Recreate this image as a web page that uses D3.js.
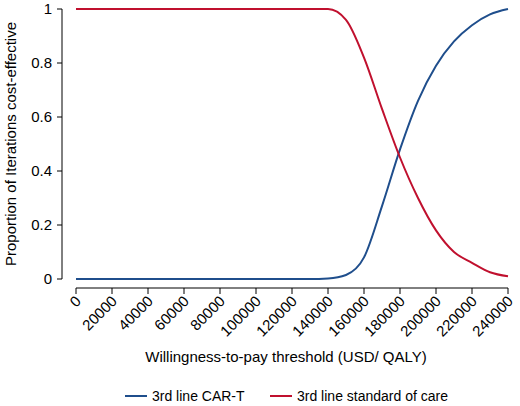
<!DOCTYPE html><html><head><script src="https://cdn.jsdelivr.net/npm/d3@7"></script>
<style>body{margin:0;background:#fff}text{font-family:"Liberation Sans Narrow","Liberation Sans",Arial,sans-serif}</style></head><body><svg id="c" width="520" height="406"></svg><script>
const thresholds=[0,10000,20000,30000,40000,50000,60000,70000,80000,90000,100000,110000,120000,130000,140000,150000,160000,170000,180000,190000,200000,210000,220000,230000,240000];
const carT=[0,0,0,0,0,0,0,0,0,0,0,0,0,0,0.002,0.015,0.08,0.27,0.48,0.66,0.79,0.88,0.94,0.98,1.0];
const soc=[1,1,1,1,1,1,1,1,1,1,1,1,1,1,1,0.96,0.82,0.63,0.45,0.3,0.18,0.1,0.06,0.025,0.01];
const xTicks=d3.range(0,240001,20000);
const yTicks=[0,0.2,0.4,0.6,0.8,1];
const svg=d3.select("#c");
const x=d3.scaleLinear().domain([0,240000]).range([76,508]);
const y=d3.scaleLinear().domain([0,1]).range([279,9]);
svg.append("line").attr("x1",62).attr("x2",62).attr("y1",y(0)).attr("y2",y(1)).attr("stroke","#000");
svg.append("line").attr("x1",x(0)).attr("x2",x(240000)).attr("y1",288).attr("y2",288).attr("stroke","#000");
yTicks.forEach(t=>{svg.append("line").attr("x1",57).attr("x2",62).attr("y1",y(t)).attr("y2",y(t)).attr("stroke","#000");
svg.append("text").attr("x",52).attr("y",y(t)+5).attr("text-anchor","end").attr("font-size",15).text(t===0?"0":t===1?"1":t.toFixed(1));});
xTicks.forEach(t=>{svg.append("line").attr("x1",x(t)).attr("x2",x(t)).attr("y1",288).attr("y2",294).attr("stroke","#000");
svg.append("text").attr("transform",`translate(${x(t)+6},${302}) rotate(-45)`).attr("text-anchor","end").attr("font-size",15).text(t);});
const line=d3.line().x((d,i)=>x(thresholds[i])).y(d=>y(d)).curve(d3.curveMonotoneX);
svg.append("path").attr("d",line(carT)).attr("fill","none").attr("stroke","#1f4e8c").attr("stroke-width",2);
svg.append("path").attr("d",line(soc)).attr("fill","none").attr("stroke","#c0102e").attr("stroke-width",2);
svg.append("text").attr("transform","translate(16,144) rotate(-90)").attr("text-anchor","middle").attr("font-size",15).text("Proportion of Iterations cost-effective");
svg.append("text").attr("x",286).attr("y",362).attr("text-anchor","middle").attr("font-size",15).text("Willingness-to-pay threshold (USD/ QALY)");
const lg=[["3rd line CAR-T","#1f4e8c",125],["3rd line standard of care","#c0102e",270]];
lg.forEach(([t,c,lx])=>{svg.append("line").attr("x1",lx).attr("x2",lx+22).attr("y1",396).attr("y2",396).attr("stroke",c).attr("stroke-width",2);
svg.append("text").attr("x",lx+27).attr("y",401).attr("font-size",14).text(t);});
</script></body></html>
